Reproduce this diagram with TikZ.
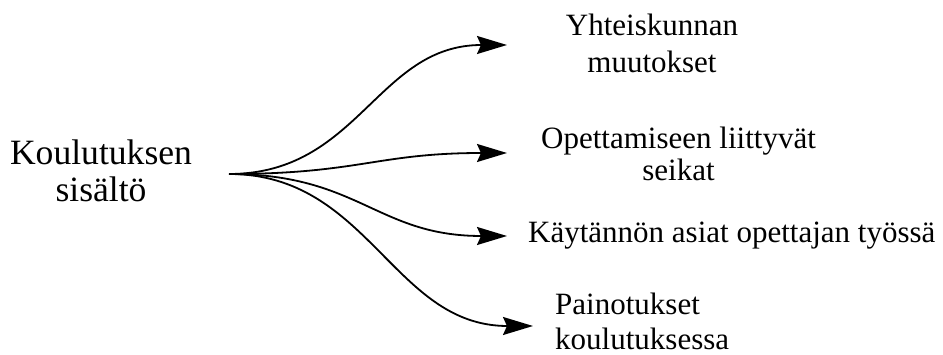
\documentclass[tikz,border=0pt]{standalone}
\usepackage{fontspec}
\setmainfont{Liberation Serif}
\usetikzlibrary{arrows.meta}
\begin{document}
\begin{tikzpicture}[x=1pt,y=-1pt,
  bigtxt/.style={inner sep=0pt,font=\fontsize{35.6}{37}\selectfont},
  smalltxt/.style={inner sep=0pt,font=\fontsize{31}{37}\selectfont},
  conn/.style={line width=1.8pt,-{Stealth[length=30pt,width=18pt,inset=4pt]}}]
\path[use as bounding box] (0,0) rectangle (943,355);
\node[bigtxt,align=center,anchor=base] (src) at (101,202) {Koulutuksen\\sisältö};
\node[smalltxt,align=center,anchor=base] (t1) at (652,73) {Yhteiskunnan\\muutokset};
\node[smalltxt,align=center,anchor=base,font=\fontsize{31}{32}\selectfont] (t2) at (678.5,181) {Opettamiseen liittyvät\\seikat};
\node[smalltxt,anchor=base west] (t3) at (528,243) {Käytännön asiat opettajan työssä};
\node[smalltxt,align=left,anchor=base west,font=\fontsize{31}{35}\selectfont] (t4) at (555,350) {Painotukset\\koulutuksessa};
\coordinate (hub) at (229,174);
\coordinate (e1) at (507,45);
\coordinate (e2) at (507,153);
\coordinate (e3) at (507,236);
\coordinate (e4) at (533,326);
\draw[conn] (hub) .. controls +(130,0) and +(-130,0) .. (e1);
\draw[conn] (hub) .. controls +(130,0) and +(-130,0) .. (e2);
\draw[conn] (hub) .. controls +(130,0) and +(-130,0) .. (e3);
\draw[conn] (hub) .. controls +(140,0) and +(-140,0) .. (e4);
\end{tikzpicture}
\end{document}
